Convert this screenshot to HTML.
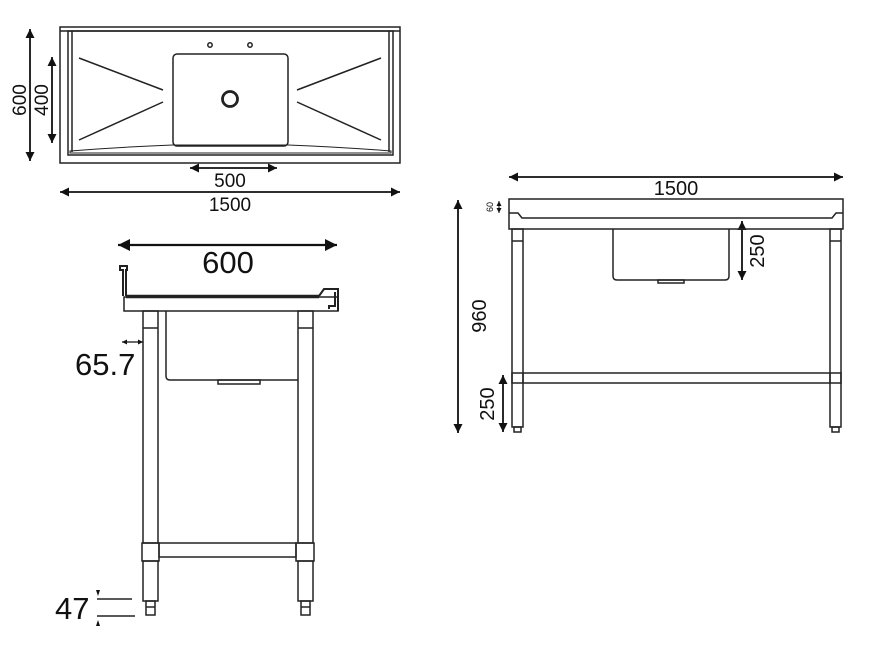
<!DOCTYPE html>
<html><head><style>
html,body{margin:0;padding:0;background:#fff;}
svg{display:block;}
text{font-family:"Liberation Sans",sans-serif;fill:#111;}
</style></head><body>
<svg width="886" height="657" viewBox="0 0 886 657" xmlns="http://www.w3.org/2000/svg">
<defs>
<marker id="a" viewBox="0 0 10 10" refX="10" refY="5" markerWidth="13" markerHeight="9" orient="auto-start-reverse" markerUnits="userSpaceOnUse"><path d="M0,0 L10,5 L0,10 z" fill="#111"/></marker>
<marker id="b" viewBox="0 0 10 10" refX="10" refY="5" markerWidth="22" markerHeight="12" orient="auto-start-reverse" markerUnits="userSpaceOnUse"><path d="M0,0 L10,5 L0,10 z" fill="#111"/></marker>
<marker id="s" viewBox="0 0 10 10" refX="10" refY="5" markerWidth="6" markerHeight="5" orient="auto-start-reverse" markerUnits="userSpaceOnUse"><path d="M0,0 L10,5 L0,10 z" fill="#111"/></marker>
</defs>
<g fill="none" stroke="#222" stroke-width="1.5">
<!-- TOP VIEW -->
<rect x="60" y="27" width="340" height="136"/>
<line x1="60" y1="31" x2="400" y2="31"/>
<rect x="68" y="31" width="325" height="124"/>
<line x1="72" y1="31" x2="72" y2="152"/>
<line x1="389" y1="31" x2="389" y2="152"/>
<path d="M70,151 Q120,147 173,145 L288,145 Q340,147 391,151 L391,153 L70,153 Z" stroke-width="1"/>
<rect x="173" y="54" width="115" height="92" rx="4"/>
<circle cx="230" cy="99" r="7.5" stroke-width="2.8"/>
<circle cx="210" cy="45" r="2.2"/>
<circle cx="250" cy="45" r="2.2"/>
<line x1="79" y1="58" x2="163" y2="90"/>
<line x1="163" y1="102" x2="79" y2="140"/>
<line x1="297" y1="90" x2="381" y2="58"/>
<line x1="297" y1="102" x2="381" y2="140"/>
</g>
<g stroke="#111" stroke-width="1.8" fill="none">
<line x1="30" y1="29" x2="30" y2="161" marker-start="url(#a)" marker-end="url(#a)"/>
<line x1="52" y1="57" x2="52" y2="143" marker-start="url(#a)" marker-end="url(#a)"/>
<line x1="190" y1="168" x2="277" y2="168" marker-start="url(#a)" marker-end="url(#a)"/>
<line x1="60" y1="192" x2="400" y2="192" marker-start="url(#a)" marker-end="url(#a)"/>
</g>
<text font-size="19" text-anchor="middle" transform="translate(26,100) rotate(-90)">600</text>
<text font-size="19" text-anchor="middle" transform="translate(48,100) rotate(-90)">400</text>
<text x="230" y="187" font-size="19" text-anchor="middle">500</text>
<text x="230" y="211" font-size="19" text-anchor="middle">1500</text>

<!-- SIDE VIEW -->
<g stroke="#111" stroke-width="2.2" fill="none">
<line x1="118" y1="245" x2="337" y2="245" marker-start="url(#b)" marker-end="url(#b)"/>
</g>
<text x="228" y="273" font-size="31" text-anchor="middle">600</text>
<g fill="none" stroke="#222" stroke-width="1.5">
<path d="M123,296 L123,270 L120,270 L120,266 L127,266 L127,270 L126,270 L126,296" stroke-width="2"/>
<line x1="126" y1="296.5" x2="319" y2="296.5" stroke-width="3.5"/>
<path d="M319,296 L324,289 L338,289 L338,311" stroke-width="2"/>
<path d="M335,292 L335,306 L329,306 L329,309" stroke-width="2"/>
<rect x="124" y="297" width="214" height="14"/>
<rect x="143" y="311" width="15" height="232"/>
<line x1="143" y1="328" x2="158" y2="328"/>
<rect x="298" y="311" width="15" height="232"/>
<line x1="298" y1="328" x2="313" y2="328"/>
<path d="M166,311 L166,376 Q166,380 170,380 L298,380"/>
<rect x="218" y="380" width="42" height="4"/>
<rect x="142" y="543" width="17" height="18"/>
<rect x="296" y="543" width="18" height="18"/>
<rect x="159" y="543" width="137" height="14"/>
<rect x="143" y="561" width="15" height="40"/>
<rect x="298" y="561" width="15" height="40"/>
<rect x="146" y="601" width="9" height="14"/>
<rect x="301" y="601" width="9" height="14"/>
<line x1="146" y1="607" x2="155" y2="607"/>
<line x1="301" y1="607" x2="310" y2="607"/>
<line x1="97" y1="599" x2="132" y2="599"/>
<line x1="97" y1="616" x2="135" y2="616"/>
</g>
<line x1="122" y1="342" x2="143" y2="342" stroke="#111" stroke-width="1.2" marker-start="url(#s)" marker-end="url(#s)"/>
<path d="M96,590 L100,590 L98,596 z M96,626 L100,626 L98,620 z" fill="#111"/>
<text x="75" y="375" font-size="31">65.7</text>
<text x="55" y="619" font-size="31">47</text>

<!-- FRONT VIEW -->
<g stroke="#111" stroke-width="1.8" fill="none">
<line x1="509" y1="177" x2="843" y2="177" marker-start="url(#a)" marker-end="url(#a)"/>
<line x1="458" y1="200" x2="458" y2="433" marker-start="url(#a)" marker-end="url(#a)"/>
<line x1="742" y1="221" x2="742" y2="280" marker-start="url(#a)" marker-end="url(#a)"/>
<line x1="503" y1="375" x2="503" y2="432" marker-start="url(#a)" marker-end="url(#a)"/>
<line x1="499" y1="201" x2="499" y2="213" stroke-width="1" marker-start="url(#s)" marker-end="url(#s)"/>
</g>
<text x="676" y="195" font-size="20" text-anchor="middle">1500</text>
<text font-size="20" text-anchor="middle" transform="translate(486,316) rotate(-90)">960</text>
<text font-size="20" text-anchor="middle" transform="translate(764,251) rotate(-90)">250</text>
<text font-size="20" text-anchor="middle" transform="translate(494,404) rotate(-90)">250</text>
<text font-size="9" text-anchor="middle" transform="translate(493,207) rotate(-90)">60</text>
<g fill="none" stroke="#222" stroke-width="1.5">
<rect x="509" y="199" width="334" height="30"/>
<path d="M509,213 L518,213 L522,218 L832,218 L836,213 L843,213"/>
<rect x="512" y="229" width="11" height="198"/>
<line x1="512" y1="241" x2="523" y2="241"/>
<rect x="830" y="229" width="11" height="198"/>
<line x1="830" y1="241" x2="841" y2="241"/>
<rect x="512" y="373" width="329" height="10"/>
<line x1="523" y1="373" x2="523" y2="383"/>
<line x1="830" y1="373" x2="830" y2="383"/>
<rect x="514" y="427" width="7" height="5"/>
<rect x="832" y="427" width="7" height="5"/>
<path d="M613,229 L613,276 Q613,280 617,280 L725,280 Q729,280 729,276 L729,229"/>
<rect x="658" y="280" width="26" height="3"/>
</g>
</svg>
</body></html>
